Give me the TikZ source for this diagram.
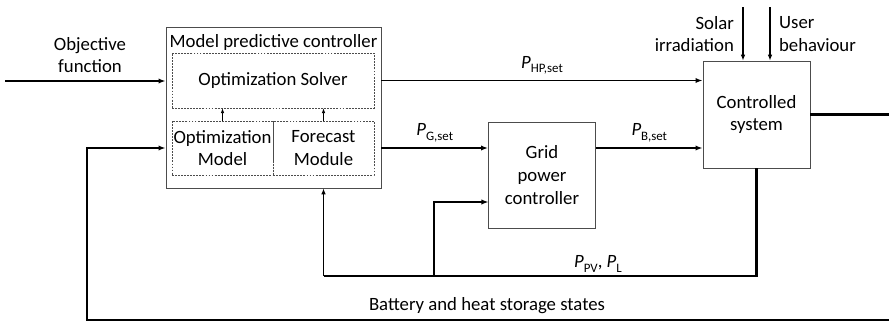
\documentclass[tikz,border=0pt]{standalone}
\usepackage{fontspec}
\setmainfont{Carlito}
\usetikzlibrary{arrows.meta}
\newcommand{\sigvar}[2]{\textit{#1}\raisebox{-0.5ex}{\fontsize{11}{11}\selectfont #2}}

\begin{document}
\begin{tikzpicture}[x=0.03cm, y=-0.03cm,
  font=\fontsize{16}{19.5}\selectfont,
  block/.style={draw=black!70, line width=0.8pt, inner sep=0pt, align=center},
  subblock/.style={draw=black!70, dash pattern=on 1.6pt off 1pt, line width=0.6pt, inner sep=0pt, align=center},
  signal/.style={line width=1.6pt, -{Latex[length=6pt,width=4.5pt]}},
  heavy/.style={line width=2.2pt},
  fine/.style={line width=0.9pt, -{Latex[length=5pt,width=4pt]}},
  inner/.style={line width=0.6pt, -{Latex[length=4pt,width=3pt]}}]
  \useasboundingbox (0,0) rectangle (889,322);

  % model predictive controller
  \node[block, minimum width={215*0.03cm}, minimum height={161*0.03cm}] (mpc) at (273.5,107.5) {};
  \node (mpctitle) at (273.5,42) {Model predictive controller};
  \node[subblock, minimum width={202*0.03cm}, minimum height={55*0.03cm}] (solver) at (273,80.5) {Optimization Solver};
  \node[subblock, minimum width={101*0.03cm}, minimum height={54*0.03cm}] (optmodel) at (222.5,148) {Optimization\\Model};
  \node[subblock, minimum width={101*0.03cm}, minimum height={54*0.03cm}] (forecast) at (323.5,148) {Forecast\\Module};
  \draw[inner] (optmodel.north) -- (optmodel.north |- solver.south);
  \draw[inner] (forecast.north) -- (forecast.north |- solver.south);

  % grid power controller and controlled system
  \node[block, minimum width={107*0.03cm}, minimum height={106*0.03cm}] (grid) at (542,175) {Grid\\power\\controller};
  \node[block, minimum width={107*0.03cm}, minimum height={107*0.03cm}] (plant) at (756.5,114.5) {Controlled\\system};

  % inputs
  \coordinate (objin) at (5,81);
  \node[align=center] (objective) at (90,55) {Objective\\function};
  \draw[signal] (objin) -- (objin -| mpc.west);
  \coordinate (solartop) at (743,7);
  \coordinate (usertop) at (770,7);
  \draw[fine] (solartop) -- (solartop |- plant.north);
  \draw[fine] (usertop) -- (usertop |- plant.north);
  \node[anchor=east, align=right] (solar) at (738,34) {Solar\\irradiation};
  \node[anchor=west, align=left] (user) at (775,34) {User\\behaviour};

  % set points
  \draw[signal] (mpc.east |- solver) -- node[above=1pt] {\sigvar{P}{HP,set}} (plant.west |- solver);
  \draw[signal] (mpc.east |- forecast) -- node[above=1pt] {\sigvar{P}{G,set}} (grid.west |- forecast);
  \draw[signal] (grid.east |- forecast) -- node[above=1pt] {\sigvar{P}{B,set}} (plant.west |- forecast);

  % output and measurements
  \coordinate (out) at (889,114);
  \draw[heavy] (plant.east) -- (plant.east -| out);
  \coordinate (pvcorner) at (757,276);
  \coordinate (branch) at (434,276);
  \coordinate (gridin) at (488.5,202);
  \draw[heavy] (plant.south) -- (plant.south |- pvcorner) -- (forecast |- pvcorner);
  \draw[fine] (forecast |- pvcorner) -- (forecast |- mpc.south);
  \draw[signal] (branch) |- (gridin);
  \node (pvlabel) at (598,264) {\sigvar{P}{PV}, \sigvar{P}{L}};

  % storage feedback
  \coordinate (fbright) at (889,320);
  \coordinate (fbleft) at (87,320);
  \draw[signal] (fbright) -- (fbleft) |- (mpc.west |- optmodel);
  \node (storage) at (487,306) {Battery and heat storage states};
\end{tikzpicture}
\end{document}
